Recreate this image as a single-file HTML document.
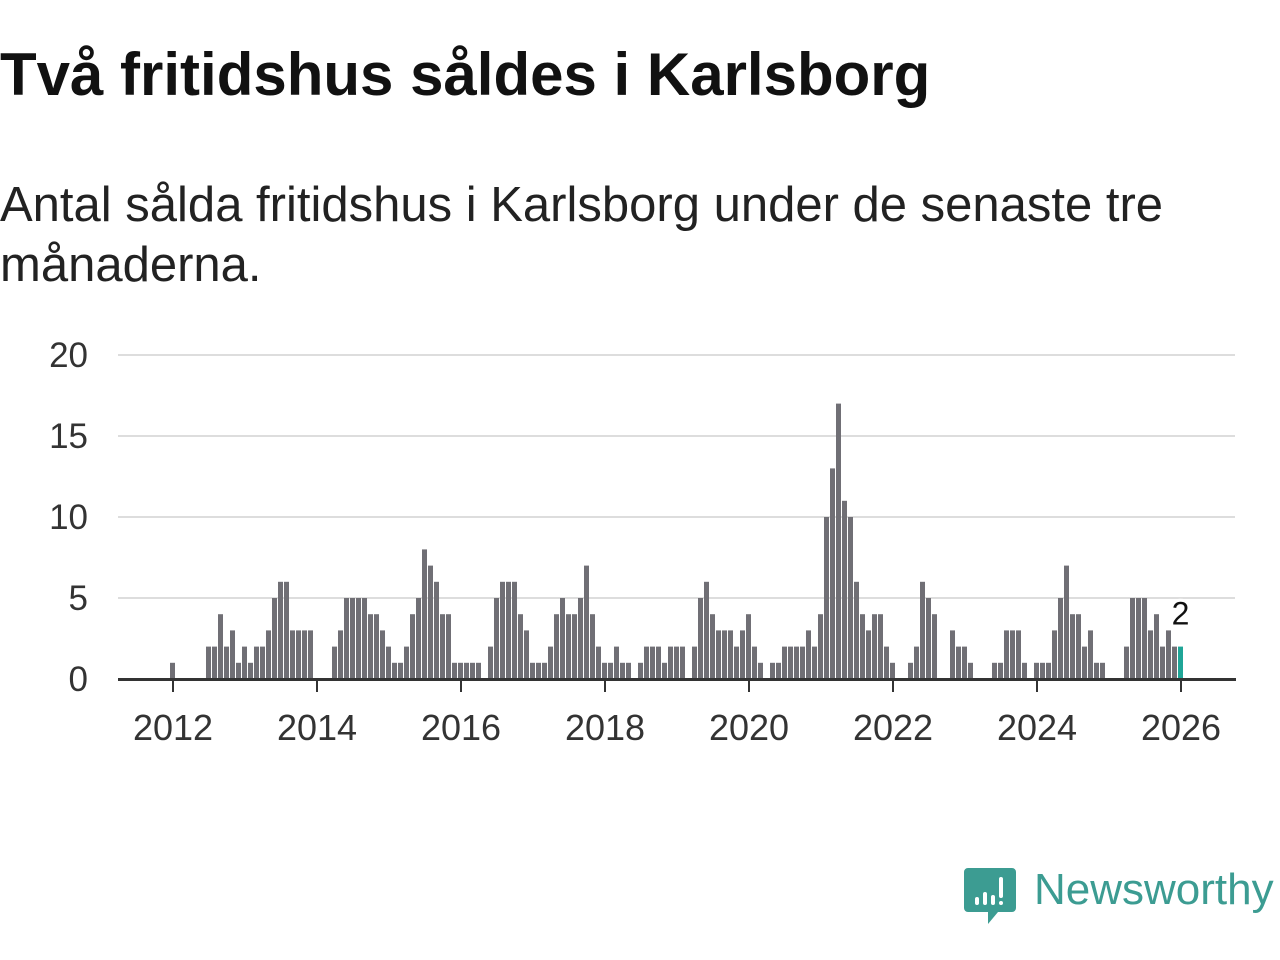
<!DOCTYPE html>
<html><head><meta charset="utf-8">
<style>
html,body{margin:0;padding:0;background:#fff;width:1280px;height:960px;overflow:hidden;font-family:"Liberation Sans","DejaVu Sans",sans-serif;}
#title{position:absolute;left:0;top:40px;font-size:60px;line-height:70px;font-weight:bold;color:#111;margin:0;white-space:nowrap;}
#subtitle{position:absolute;left:0;top:175px;font-size:49px;line-height:60px;color:#222;width:1220px;margin:0;}
svg{position:absolute;left:0;top:0;}
</style></head>
<body>
<h1 id="title">Två fritidshus såldes i Karlsborg</h1>
<p id="subtitle">Antal sålda fritidshus i Karlsborg under de senaste tre månaderna.</p>
<svg id="chart" width="1280" height="960"></svg>
<script>
const values = [1,0,0,0,0,0,2,2,4,2,3,1,2,1,2,2,3,5,6,6,3,3,3,3,0,0,0,2,3,5,5,5,5,4,4,3,2,1,1,2,4,5,8,7,6,4,4,1,1,1,1,1,0,2,5,6,6,6,4,3,1,1,1,2,4,5,4,4,5,7,4,2,1,1,2,1,1,0,1,2,2,2,1,2,2,2,0,2,5,6,4,3,3,3,2,3,4,2,1,0,1,1,2,2,2,2,3,2,4,10,13,17,11,10,6,4,3,4,4,2,1,0,0,1,2,6,5,4,0,0,3,2,2,1,0,0,0,1,1,3,3,3,1,0,1,1,1,3,5,7,4,4,2,3,1,1,0,0,0,2,5,5,5,3,4,2,3,2,2];
const yTicks = [0,5,10,15,20];
const xTickYears = [2012,2014,2016,2018,2020,2022,2024,2026];
const startYear = 2012;

const NS = "http://www.w3.org/2000/svg";
const svg = document.getElementById('chart');
const y = v => 679 - v * 16.2;
const xMonth = i => 172.5 + 6 * i;
const xYear = yr => 173 + 72 * (yr - startYear);
function mk(tag, attrs){const e=document.createElementNS(NS,tag);for(const k in attrs)e.setAttribute(k,attrs[k]);svg.appendChild(e);return e;}

yTicks.forEach(t=>{
  if(t>0){const g=mk('line',{x1:118,x2:1235,y1:y(t),y2:y(t),stroke:'#dddddd','stroke-width':2});
  
  }
  const l=mk('text',{x:88,y:y(t)+12,'text-anchor':'end','font-size':35,fill:'#333'});
  l.textContent=t;
  
  
});

values.forEach((v,i)=>{
  if(v<=0)return;
  const last=i===values.length-1;
  const r=mk('rect',{x:xMonth(i)-2.5,y:y(v),width:5,height:679-y(v),fill:last?'#1fa597':'#706f75'});
  
  
});

const ax=mk('line',{x1:118,x2:1236,y1:679.5,y2:679.5,stroke:'#333','stroke-width':3});



xTickYears.forEach(yr=>{
  const t=mk('line',{x1:xYear(yr),x2:xYear(yr),y1:680,y2:692,stroke:'#333','stroke-width':2});
  
  
  const l=mk('text',{x:xYear(yr),y:740,'text-anchor':'middle','font-size':36,fill:'#333'});
  l.textContent=yr;
  
  
});

const li=values.length-1;
const vl=mk('text',{x:xMonth(li),y:y(values[li])-22,'text-anchor':'middle','font-size':32,fill:'#111',stroke:'#fff','stroke-width':6,'paint-order':'stroke'});
vl.textContent=values[li];


</script>
<svg width="1280" height="960" style="pointer-events:none">
  <path d="M968 868 h44 a4 4 0 0 1 4 4 v36 a4 4 0 0 1 -4 4 h-14 l-10 12 v-12 h-20 a4 4 0 0 1 -4 -4 v-36 a4 4 0 0 1 4 -4z" fill="#3c9c92"/>
  <rect x="975" y="897" width="4" height="8" rx="2" fill="#fff"/>
  <rect x="983" y="892" width="4" height="13" rx="2" fill="#fff"/>
  <rect x="991" y="895" width="4" height="10" rx="2" fill="#fff"/>
  <rect x="999" y="877" width="4" height="21" rx="2" fill="#fff"/>
  <rect x="999" y="901" width="4" height="4" rx="2" fill="#fff"/>
  <text x="1034" y="904" font-size="44" fill="#3c9c92" font-family="Liberation Sans, sans-serif">Newsworthy</text>
</svg>
</body></html>
